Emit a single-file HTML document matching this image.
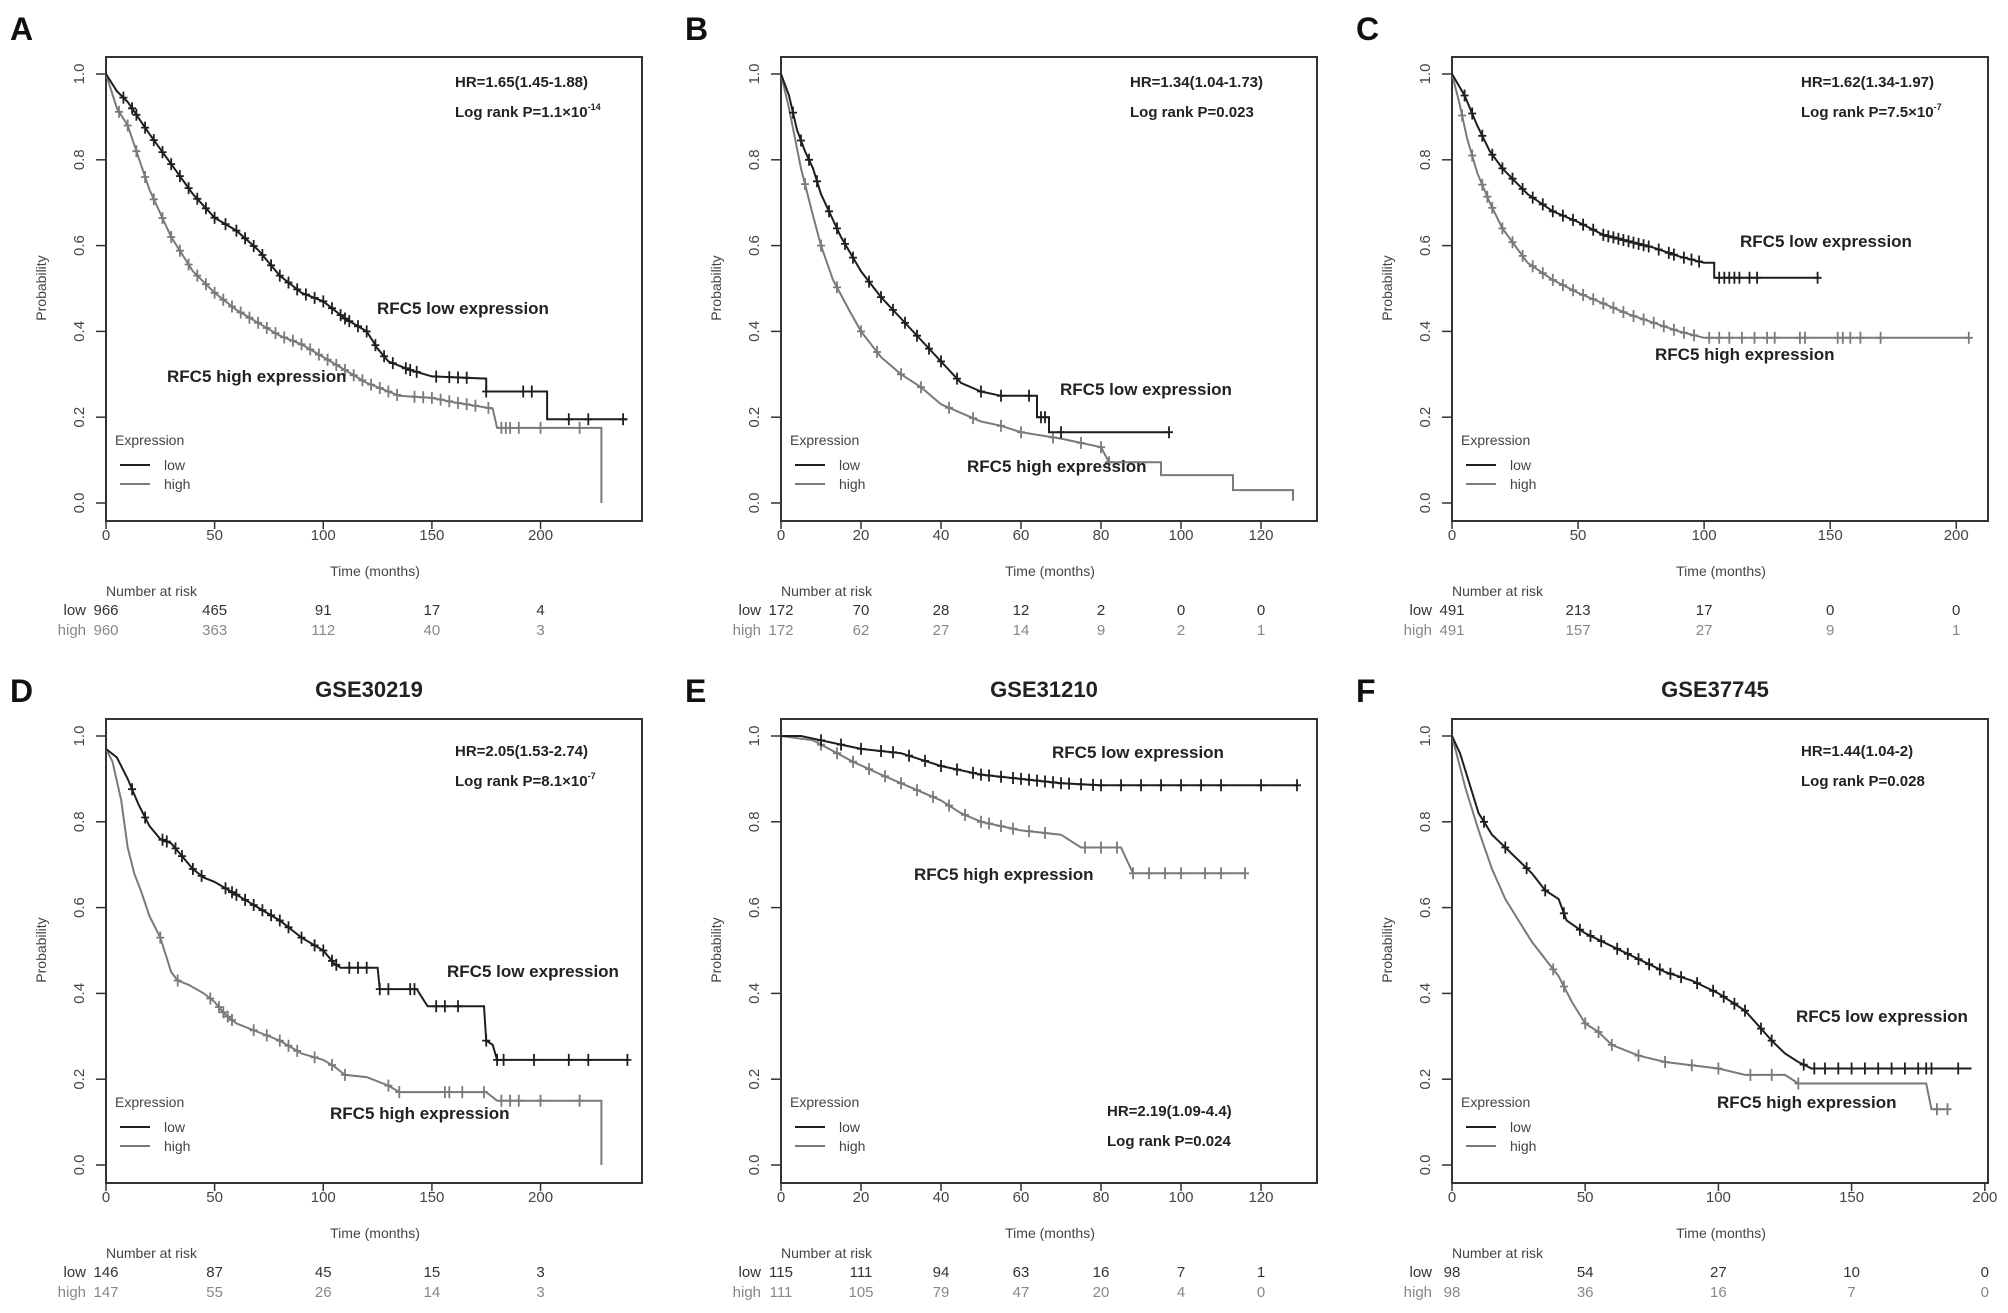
<!DOCTYPE html>
<html><head><meta charset="utf-8"><style>
html,body{margin:0;padding:0;background:#fff;}
svg{display:block;font-family:"Liberation Sans",sans-serif;}
</style></head><body>
<svg id="fig" width="2008" height="1313" viewBox="0 0 2008 1313" xmlns="http://www.w3.org/2000/svg"></svg>
<script>
// ---------- data ----------
const panelLetters = ["A","B","C","D","E","F"];
const panelTitles = ["","","","GSE30219","GSE31210","GSE37745"];
const hrTexts = ["HR=1.65(1.45-1.88)","HR=1.34(1.04-1.73)","HR=1.62(1.34-1.97)","HR=2.05(1.53-2.74)","HR=2.19(1.09-4.4)","HR=1.44(1.04-2)"];
const pBase = ["1.1×10","0.023","7.5×10","8.1×10","0.024","0.028"];
const pExp = ["-14","","-7","-7","",""];
const xMaxs = [246.7,134,212.6,246.7,134,201.2];
const xTickSets = [[0,50,100,150,200],[0,20,40,60,80,100,120],[0,50,100,150,200],[0,50,100,150,200],[0,20,40,60,80,100,120],[0,50,100,150,200]];
const riskLow = [[966,465,91,17,4],[172,70,28,12,2,0,0],[491,213,17,0,0],[146,87,45,15,3],[115,111,94,63,16,7,1],[98,54,27,10,0]];
const riskHigh = [[960,363,112,40,3],[172,62,27,14,9,2,1],[491,157,27,9,1],[147,55,26,14,3],[111,105,79,47,20,4,0],[98,36,16,7,0]];

// low curves (time, survival)
const lowT = [
 [0,5,10,20,30,40,50,60,70,80,90,100,110,120,125,130,140,150,175,175,203,203,240],
 [0,2,4,6,8,10,12,15,20,25,30,35,40,45,50,55,64,64,67,67,97],
 [0,5,10,15,20,25,30,40,50,60,70,80,90,100,104,104,145],
 [0,5,10,15,20,25,30,35,40,45,50,60,70,80,90,100,105,108,125,126,143,148,174,175,178,180,240],
 [0,5,10,15,20,30,40,50,60,70,80,129],
 [0,3,6,10,15,20,25,30,35,40,43,50,60,70,80,90,100,110,120,125,130,135,195]];
const lowS = [
 [1,0.96,0.935,0.86,0.79,0.72,0.665,0.635,0.59,0.53,0.49,0.47,0.43,0.40,0.36,0.33,0.31,0.295,0.29,0.26,0.26,0.195,0.195],
 [1,0.95,0.87,0.82,0.78,0.72,0.68,0.62,0.54,0.48,0.43,0.38,0.33,0.28,0.26,0.25,0.25,0.20,0.20,0.165,0.165],
 [1,0.95,0.88,0.82,0.78,0.75,0.72,0.68,0.655,0.625,0.61,0.595,0.575,0.56,0.56,0.525,0.525],
 [0.97,0.95,0.90,0.84,0.79,0.76,0.75,0.72,0.69,0.67,0.66,0.63,0.60,0.57,0.53,0.50,0.47,0.46,0.46,0.41,0.41,0.37,0.37,0.29,0.28,0.245,0.245],
 [1,1,0.99,0.98,0.97,0.96,0.93,0.91,0.90,0.89,0.885,0.885],
 [1,0.96,0.90,0.82,0.77,0.74,0.71,0.68,0.64,0.62,0.57,0.54,0.51,0.48,0.45,0.43,0.40,0.36,0.29,0.26,0.24,0.225,0.225]];
const highT = [
 [0,5,10,20,30,40,50,60,70,80,90,100,110,120,135,150,160,178,180,228,228],
 [0,2,5,8,10,13,17,20,25,30,35,40,45,50,55,60,70,75,80,82,95,95,113,113,128,128],
 [0,3,6,10,15,20,25,30,40,50,60,70,80,90,100,205],
 [0,3,7,10,13,16,20,25,30,33,38,45,50,55,60,70,80,90,100,105,110,120,130,135,175,180,228,228],
 [0,8,12,18,25,30,40,45,50,55,60,70,75,85,88,116],
 [0,5,10,15,20,25,30,40,45,50,55,60,70,80,100,110,125,130,178,180,185]];
const highS = [
 [1,0.92,0.88,0.73,0.62,0.54,0.49,0.45,0.42,0.39,0.37,0.34,0.31,0.28,0.25,0.245,0.235,0.22,0.175,0.175,0.0],
 [1,0.92,0.78,0.67,0.60,0.52,0.45,0.40,0.34,0.30,0.27,0.23,0.21,0.19,0.18,0.165,0.15,0.14,0.13,0.095,0.095,0.065,0.065,0.03,0.03,0.005],
 [1,0.93,0.85,0.77,0.70,0.64,0.60,0.56,0.52,0.49,0.465,0.44,0.42,0.40,0.385,0.385],
 [0.97,0.94,0.85,0.74,0.68,0.64,0.58,0.53,0.45,0.43,0.42,0.40,0.38,0.35,0.33,0.31,0.29,0.26,0.245,0.23,0.21,0.205,0.185,0.17,0.17,0.15,0.15,0.0],
 [1,0.99,0.97,0.94,0.91,0.89,0.85,0.82,0.80,0.79,0.78,0.77,0.74,0.74,0.68,0.68],
 [1,0.88,0.78,0.69,0.62,0.57,0.52,0.44,0.38,0.33,0.31,0.28,0.255,0.24,0.225,0.21,0.21,0.19,0.19,0.13,0.13]];
// censor times
const lowCens = [
 [8,12,14,18,22,26,30,34,38,42,46,50,55,60,64,68,72,76,80,84,88,92,96,100,104,108,110,112,116,120,124,128,132,138,140,143,152,158,162,166,175,192,196,213,222,238],
 [3,5,7,9,12,14,16,18,22,25,28,31,34,37,40,44,50,55,62,65,66,70,97],
 [5,8,12,16,20,24,28,32,36,40,44,48,52,56,60,62,64,66,68,70,72,74,76,78,82,86,88,92,95,98,106,108,110,112,114,118,121,145],
 [12,18,26,28,32,35,40,44,55,58,60,64,68,72,76,80,84,90,96,100,104,106,112,116,120,126,130,140,142,152,156,162,175,180,183,197,213,222,240],
 [10,15,20,25,28,32,36,40,44,48,50,52,55,58,60,62,64,66,68,70,72,75,78,80,85,90,95,100,105,110,120,129],
 [12,20,28,35,42,48,52,56,62,66,70,74,78,82,86,92,98,102,106,110,116,120,132,136,140,145,150,155,160,165,170,175,178,180,190]];
const highCens = [
 [6,10,14,18,22,26,30,34,38,42,46,50,54,58,62,66,70,74,78,82,86,90,94,98,102,106,110,114,118,122,126,130,134,142,146,150,154,158,162,166,170,176,182,184,186,190,200,218],
 [6,10,14,20,24,30,35,42,48,55,60,68,75,80,82],
 [4,8,12,14,16,20,24,28,32,36,40,44,48,52,56,60,64,68,72,76,80,84,88,92,96,102,106,110,115,120,125,128,138,140,153,155,158,162,170,205],
 [25,33,48,52,54,56,58,68,74,80,84,88,96,104,110,130,135,156,158,164,174,182,186,190,200,218],
 [10,14,18,22,26,30,34,38,42,46,50,52,55,58,62,66,76,80,84,88,92,96,100,106,110,116],
 [38,42,50,55,60,70,80,90,100,112,120,130,182,186]];
const lowLabPos = [[377,308],[1060,389],[1740,241],[447,971],[1052,752],[1796,1016]];
const highLabPos = [[167,376],[967,466],[1655,354],[330,1113],[914,874],[1717,1102]];

// ---------- drawing ----------
const NS="http://www.w3.org/2000/svg";
const svg=document.getElementById('fig');
function mk(tag,attrs,parent){const e=document.createElementNS(NS,tag);for(const k in attrs)e.setAttribute(k,attrs[k]);(parent||svg).appendChild(e);return e;}
const colX=[0,675,1346], rowY=[0,662];
const BW=536;
function interp(ts,ss,t){let v=ss[0];for(let i=0;i<ts.length;i++){if(ts[i]<=t)v=ss[i];else{const t0=ts[i-1],s0=ss[i-1];if(i>0&&t0<t)v=s0+(ss[i]-s0)*(t-t0)/(ts[i]-t0);break;}}return v;}

for(let p=0;p<6;p++){
 const ox=colX[p%3], oy=rowY[Math.floor(p/3)];
 const g=mk('g',{});
 
 
 const L=106+ox, T=57+oy, R=L+BW, B=521+oy;
 const y1=74+oy, y0=503+oy;
 const sx=t=>L+t/xMaxs[p]*BW;
 const sy=s=>y0+(y1-y0)*s;
 const letter=mk('text',{x:10+ox,y:40+oy,'font-size':32,'font-weight':'bold',fill:'#111'},g);letter.textContent=panelLetters[p];
 
 if(panelTitles[p]){const tt=mk('text',{x:L+263,y:697,'font-size':22,'font-weight':'bold','text-anchor':'middle',fill:'#222'},g);tt.textContent=panelTitles[p];
  }
 const box=mk('rect',{x:L,y:T,width:BW,height:B-T,fill:'none',stroke:'#333','stroke-width':2},g);
 
 // y axis
 for(let k=0;k<=5;k++){const v=k*0.2,y=sy(v);
  mk('line',{x1:L-10,x2:L,y1:y,y2:y,stroke:'#333','stroke-width':1.5},g);
  const lb=mk('text',{x:0,y:0,'font-size':15,fill:'#444','text-anchor':'middle',transform:`translate(${L-22},${y}) rotate(-90)`},g);lb.textContent=v.toFixed(1);
  }
 const yl=mk('text',{x:0,y:0,'font-size':14,fill:'#444','text-anchor':'middle',transform:`translate(${L-60},${oy+288}) rotate(-90)`},g);yl.textContent='Probability';
 
 // x axis
 xTickSets[p].forEach((v,i)=>{const x=sx(v);
  mk('line',{x1:x,x2:x,y1:B,y2:B+8,stroke:'#333','stroke-width':1.5},g);
  const lb=mk('text',{x:x,y:B+19,'font-size':15,fill:'#444','text-anchor':'middle'},g);lb.textContent=v;
  
  const rl=mk('text',{x:x,y:oy+615,'font-size':15,fill:'#333','text-anchor':'middle'},g);rl.textContent=riskLow[p][i];
  
  const rh=mk('text',{x:x,y:oy+635,'font-size':15,fill:'#888','text-anchor':'middle'},g);rh.textContent=riskHigh[p][i];
  
 });
 const xl=mk('text',{x:L+269,y:oy+576,'font-size':14,fill:'#444','text-anchor':'middle'},g);xl.textContent='Time (months)';
 
 const nr=mk('text',{x:L,y:oy+596,'font-size':14,fill:'#444'},g);nr.textContent='Number at risk';
 
 const lw=mk('text',{x:L-20,y:oy+615,'font-size':15,fill:'#333','text-anchor':'end'},g);lw.textContent='low';
 
 const hg=mk('text',{x:L-20,y:oy+635,'font-size':15,fill:'#888','text-anchor':'end'},g);hg.textContent='high';
 
 // curves
 [[highT[p],highS[p],highCens[p],'#7a7a7a','high'],[lowT[p],lowS[p],lowCens[p],'#1e1e1e','low']].forEach(([ts,ss,cs,col,nm])=>{
  const pts=ts.map((t,i)=>sx(t).toFixed(1)+','+sy(ss[i]).toFixed(1)).join(' ');
  const pl=mk('polyline',{points:pts,fill:'none',stroke:col,'stroke-width':2},g);
  
  let d='';cs.forEach(t=>{const x=sx(t),y=sy(interp(ts,ss,t));d+=`M${x.toFixed(1)} ${(y-6).toFixed(1)}V${(y+6).toFixed(1)}M${(x-4).toFixed(1)} ${y.toFixed(1)}H${(x+4).toFixed(1)}`;});
  const cp=mk('path',{d:d,stroke:col,'stroke-width':1.8,fill:'none'},g);
  
 });
 // labels
 const ll=mk('text',{x:lowLabPos[p][0],y:lowLabPos[p][1]+6,'font-size':17,'font-weight':'bold',fill:'#222'},g);ll.textContent='RFC5 low expression';
 
 const hl=mk('text',{x:highLabPos[p][0],y:highLabPos[p][1]+6,'font-size':17,'font-weight':'bold',fill:'#222'},g);hl.textContent='RFC5 high expression';
 
 // HR
 const hx = p===4 ? 1107 : R-187, hy = p===4 ? 1110 : oy+(p>=3?88:81);
 const h1=mk('text',{x:hx,y:hy+6,'font-size':15,'font-weight':'bold',fill:'#222'},g);h1.textContent=hrTexts[p];
 
 const h2=mk('text',{x:hx,y:hy+36,'font-size':15,'font-weight':'bold',fill:'#222'},g);h2.textContent='Log rank P='+pBase[p];
 
 if(pExp[p]){const ts=mk('tspan',{'font-size':9,dy:-7},h2);ts.textContent=pExp[p];}
 // legend
 const lgy = oy+440;
 const lt=mk('text',{x:L+9,y:lgy+5,'font-size':14,fill:'#444'},g);lt.textContent='Expression';
 
 mk('line',{x1:L+14,x2:L+44,y1:lgy+25,y2:lgy+25,stroke:'#1e1e1e','stroke-width':2},g);
 mk('line',{x1:L+14,x2:L+44,y1:lgy+44,y2:lgy+44,stroke:'#7a7a7a','stroke-width':2},g);
 const e1=mk('text',{x:L+58,y:lgy+30,'font-size':14,fill:'#444'},g);e1.textContent='low';
 
 const e2=mk('text',{x:L+58,y:lgy+49,'font-size':14,fill:'#444'},g);e2.textContent='high';
 
}
</script>
</body></html>
